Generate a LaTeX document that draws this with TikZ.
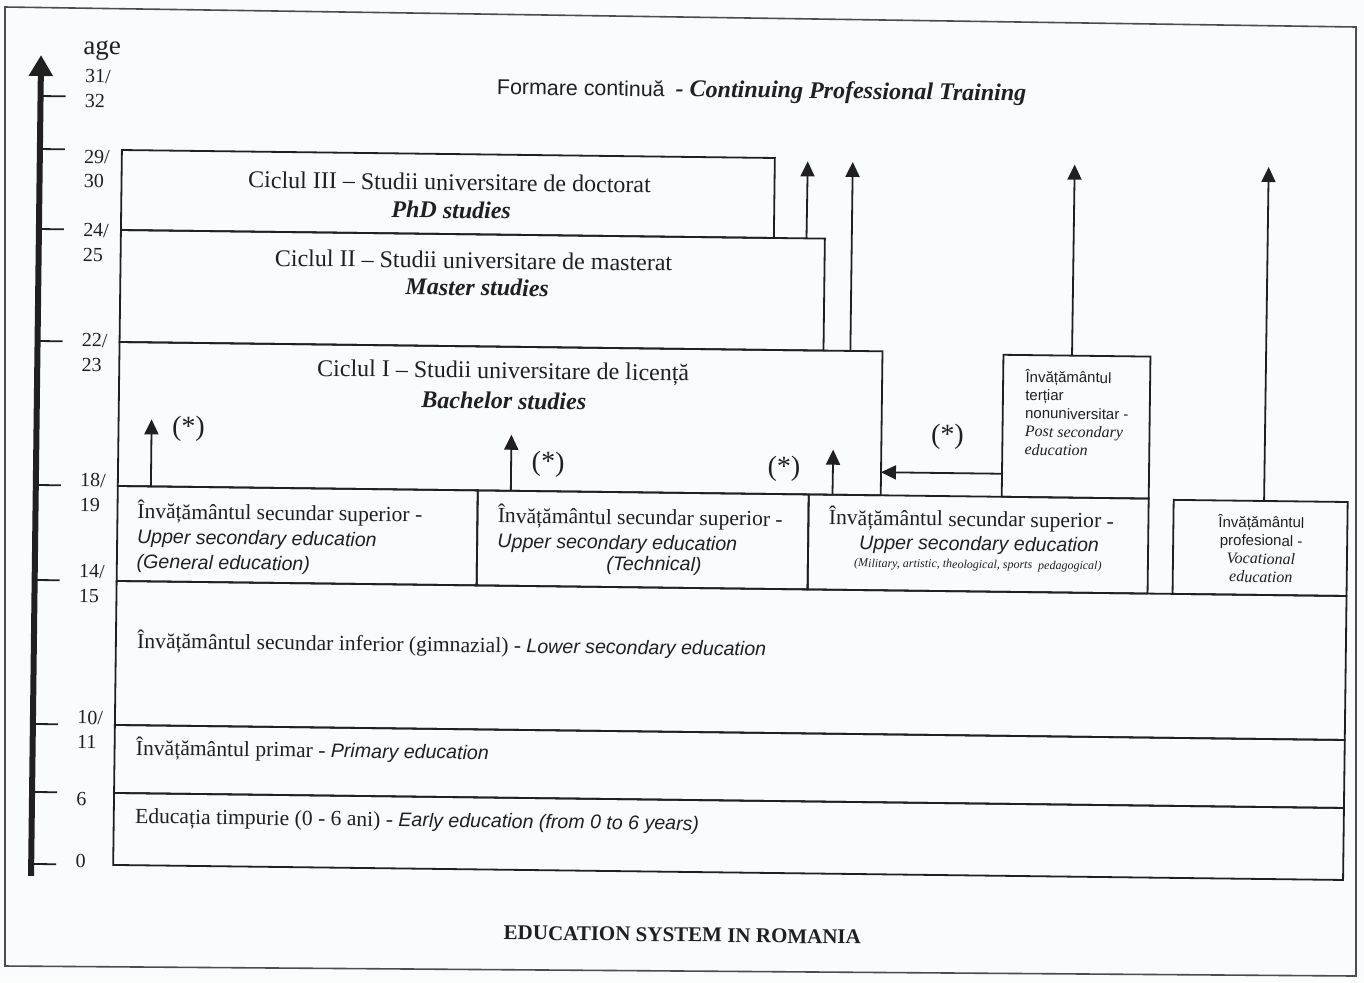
\documentclass[tikz,border=0pt]{standalone}
\usepackage{fontspec}
\setmainfont{Liberation Serif}
\setsansfont{Liberation Sans}
\usetikzlibrary{arrows.meta,calc}
\definecolor{paper}{RGB}{248,252,253}
\definecolor{ink}{RGB}{32,32,32}
\newcommand\romtx{\rmfamily\upshape\mdseries\fontsize{10.8}{12.5}\selectfont}
\newcommand\engtx{\sffamily\itshape\mdseries\fontsize{9.8}{12.5}\selectfont}
\newcommand\psans{\sffamily\upshape\fontsize{7.5}{9.1}\selectfont}
\newcommand\pital{\rmfamily\itshape\fontsize{8}{9.1}\selectfont}
\begin{document}
\begin{tikzpicture}[x=0.5pt,y=-0.5pt,
  box/.style={draw=ink,line width=0.9pt,anchor=north west,inner sep=0pt,outer sep=0pt},
  arr/.style={draw=ink,line width=0.9pt,-{Triangle[length=7.5pt,width=7pt]}},
  lbl/.style={inner sep=0pt,text=ink},
  agel/.style={inner sep=0pt,text=ink,anchor=west,align=left,font=\fontsize{10}{12.25}\selectfont},
  cic/.style={inner sep=0pt,text=ink,font=\fontsize{12}{14}\selectfont},
  cice/.style={inner sep=0pt,text=ink,font=\fontsize{12}{14}\selectfont\bfseries\itshape},
  starl/.style={inner sep=0pt,text=ink,font=\fontsize{14}{16}\selectfont}]
\fill[paper] (0,0) rectangle (1364,982);
\useasboundingbox (0,0) rectangle (1364,982);
\draw[ink!80,line width=0.8pt] (5,7) -- (1356,27) -- (1356,976) -- (5,966) -- cycle;

\begin{scope}[rotate around={-0.7:(38,470)},transform shape]
% age axis
\draw[ink,line width=3pt,-{Triangle[length=10.5pt,width=11.5pt]}] (36,876) -- (36,55);
\foreach \yy in {96,149,229,341,485,580,724,792,864}
  \draw[ink,line width=0.9pt] (36,\yy) -- (61,\yy);
\node[lbl,anchor=west,font=\fontsize{13.5}{15}\selectfont] (age) at (78,50) {age};
\node[agel] (l31) at (80,88) {31/\\32};
\node[agel] (l29) at (80,168.5) {29/\\30};
\node[agel] (l24) at (80,242) {24/\\25};
\node[agel] (l22) at (80,352) {22/\\23};
\node[agel] (l18) at (80,492) {18/\\19};
\node[agel] (l14) at (80,583) {14/\\15};
\node[agel] (l10) at (80,729) {10/\\11};
\node[agel] (l6) at (80,798) {6};
\node[agel] (l0) at (80,860) {0};

% boxes
\node[box,minimum width=326.5pt,minimum height=40pt] (phd) at (118,149) {};
\node[box,minimum width=352pt,minimum height=56pt] (msc) at (118,229) {};
\node[box,minimum width=381.5pt,minimum height=72pt] (bach) at (118,341) {};
\node[box,minimum width=180pt,minimum height=47.5pt] (gen) at (118,485) {};
\node[box,minimum width=165.5pt,minimum height=47.5pt] (tech) at (478,485) {};
\node[box,minimum width=170pt,minimum height=47.5pt] (mil) at (809,485) {};
\node[box,minimum width=73.5pt,minimum height=71pt] (post) at (1002,343) {};
\node[box,minimum width=87pt,minimum height=47pt] (voc) at (1174,486) {};
\node[box,minimum width=615pt,minimum height=72pt] (low) at (118,580) {};
\node[box,minimum width=615pt,minimum height=34pt] (prim) at (118,724) {};
\node[box,minimum width=615pt,minimum height=36pt] (early) at (118,792) {};

% texts
\node[lbl] (fc) at (757,83) {{\sffamily\fontsize{10.7}{12}\selectfont Formare continuă}\hspace{3pt} {\fontsize{12}{14}\selectfont\bfseries\itshape - Continuing Professional Training}};
\node[cic] (c3) at (446,177) {Ciclul III – Studii universitare de doctorat};
\node[cice] (c3e) at (448,205) {PhD studies};
\node[cic] (c2) at (471,255) {Ciclul II – Studii universitare de masterat};
\node[cice] (c2e) at (475,282) {Master studies};
\node[cic] (c1) at (502,367) {Ciclul I – Studii universitare de licență};
\node[cice] (c1e) at (503,395) {Bachelor studies};

\node[lbl,anchor=west,align=left,font=\romtx] (gentx) at (137.5,535) {\romtx Învățământul secundar superior -\\\engtx Upper secondary education\\\engtx (General education)};
\node[lbl,anchor=west,align=left,font=\romtx] (techtx) at (498,522.5) {\romtx Învățământul secundar superior -\\\engtx Upper secondary education};
\node[lbl,anchor=east] (techtx2) at (703,558) {\engtx (Technical)};
\node[lbl] (miltx1) at (972,508) {\romtx Învățământul secundar superior -};
\node[lbl] (miltx2) at (980,534) {\engtx Upper secondary education};
\node[lbl] (miltx3) at (979,554) {\rmfamily\itshape\fontsize{6}{7}\selectfont (Military, artistic, theological, sports\ \ pedagogical)};
\node[lbl,anchor=west,align=left,font=\psans] (posttx) at (1024,400) {\psans Învățământul\\\psans terțiar\\\psans nonuniversitar -\\\pital Post secondary\\\pital education};
\node[lbl,align=center,font=\psans] (voctx) at (1262,533.5) {\psans Învățământul\\\psans profesional -\\\pital Vocational\\\pital education};
\node[lbl,anchor=west] (lowtx) at (139,640) {\romtx Învățământul secundar inferior (gimnazial) - \engtx Lower secondary education};
\node[lbl,anchor=west] (primtx) at (139,747) {\romtx Învățământul primar - \engtx Primary education};
\node[lbl,anchor=west] (earlytx) at (139,817) {\romtx Educația timpurie (0 - 6 ani) - \engtx Early education (from 0 to 6 years)};
\node[lbl] (title) at (688,927) {\fontsize{10.5}{12}\selectfont\bfseries EDUCATION SYSTEM IN ROMANIA};

% (*) marks
\node[starl] (s1) at (188,427) {(*)};
\node[starl] (s2) at (548,458) {(*)};
\node[starl] (s3) at (784,460) {(*)};
\node[starl] (s4) at (947,426) {(*)};

% arrows
\coordinate (t1) at (804,152);
\coordinate (t2) at (849,152);
\coordinate (t3) at (1071,152);
\coordinate (t4) at (1265,152);
\coordinate (t5) at (151,418);
\coordinate (t6) at (511,429);
\coordinate (t7) at (833,440);
\draw[arr] ($(msc.north west)!0.974!(msc.north east)$) -- (t1);
\draw[arr] ($(bach.north west)!0.958!(bach.north east)$) -- (t2);
\draw[arr] ($(post.north west)!0.467!(post.north east)$) -- (t3);
\draw[arr] ($(voc.north west)!0.52!(voc.north east)$) -- (t4);
\draw[arr] ($(gen.north west)!0.092!(gen.north east)$) -- (t5);
\draw[arr] ($(tech.north west)!0.1!(tech.north east)$) -- (t6);
\draw[arr] ($(mil.north west)!0.07!(mil.north east)$) -- (t7);
\draw[arr] ($(post.north west)!0.838!(post.south west)$) -- ($(bach.north east)!0.84!(bach.south east)$);
\end{scope}
\end{tikzpicture}
\end{document}
